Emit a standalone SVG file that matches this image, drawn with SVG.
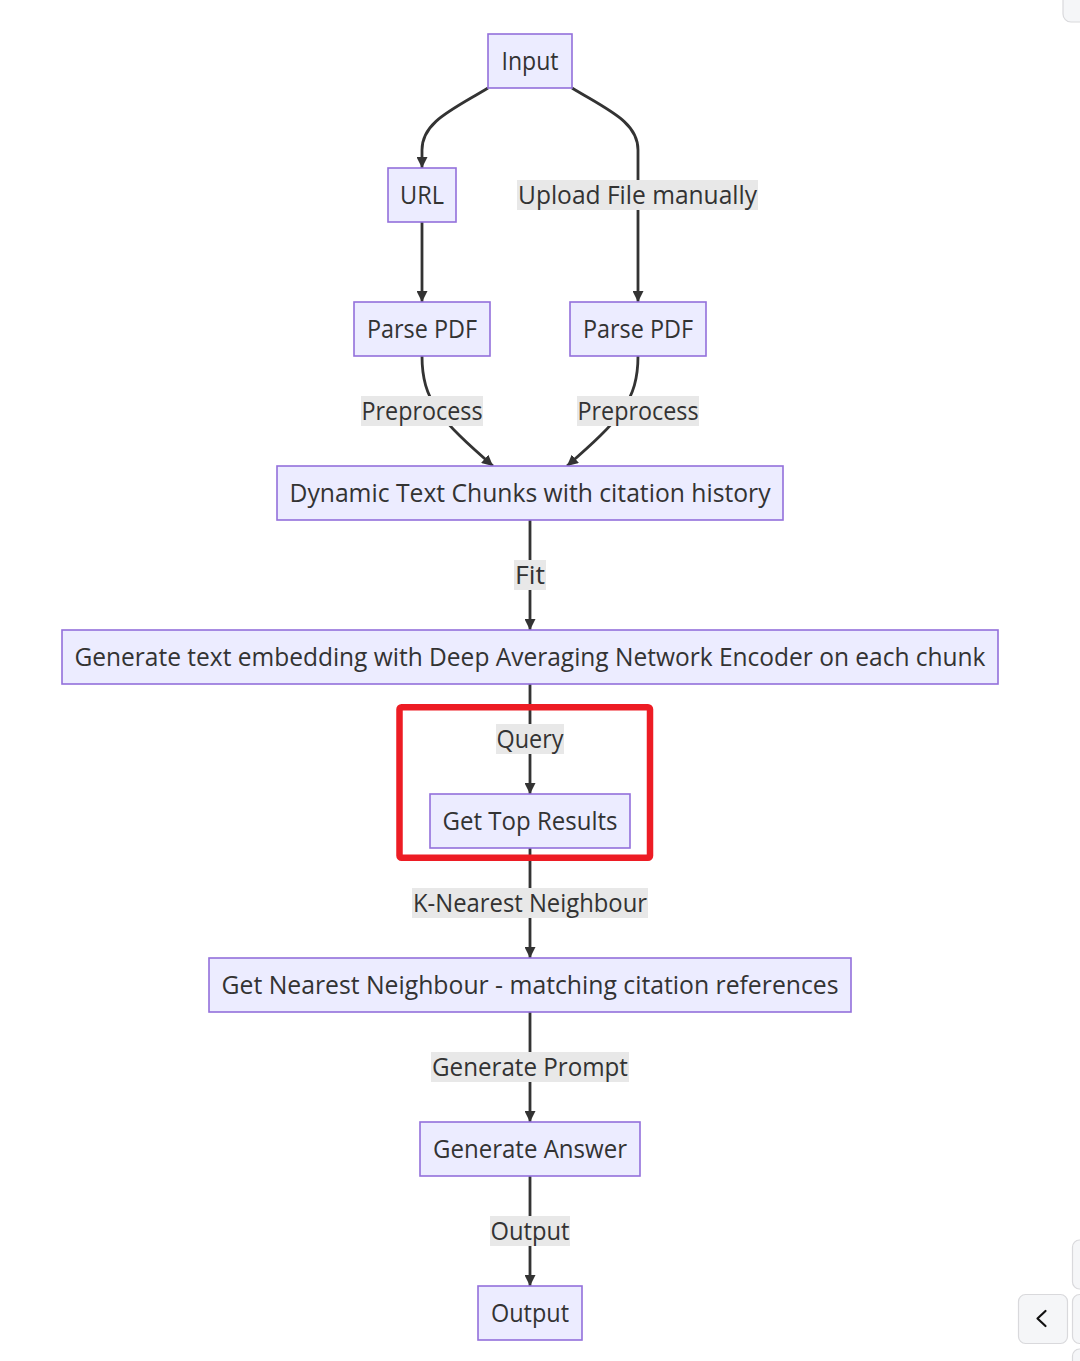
<svg xmlns="http://www.w3.org/2000/svg" width="1080" height="1361" viewBox="0 0 1080 1361">
<style>
  .node rect { fill: #ECECFF; stroke: #9370DB; stroke-width: 1.6; }
  .lbl rect { fill: #e8e8e8; }
  text { font-family: "Open Sans", "Liberation Sans", sans-serif; font-size: 25px; fill: #333333; text-anchor: middle; }
  .edge { fill: none; stroke: #333333; stroke-width: 2.8; marker-end: url(#arrow); }
  .ui { fill: #f5f6f8; stroke: #d9d9dc; stroke-width: 1.2; }
</style>
<defs>
  <marker id="arrow" viewBox="0 0 10 10" refX="10" refY="5" markerWidth="11" markerHeight="11" markerUnits="userSpaceOnUse" orient="auto">
    <path d="M0,0 L10,5 L0,10 z" fill="#333333"/>
  </marker>
</defs>
<rect width="1080" height="1361" fill="#ffffff"/>

<g id="connectors">
  <path class="edge" d="M488,88 C452,110 422,122 422,150 L422,168"/>
  <path class="edge" d="M572,88 C608,110 638,122 638,150 L638,302"/>
  <path class="edge" d="M422,222 L422,302"/>
  <path class="edge" d="M422,356 C422,400 440,420 493,466"/>
  <path class="edge" d="M638,356 C638,400 620,420 567,466"/>
  <path class="edge" d="M530,520 L530,630"/>
  <path class="edge" d="M530,684 L530,794"/>
  <path class="edge" d="M530,848 L530,958"/>
  <path class="edge" d="M530,1012 L530,1122"/>
  <path class="edge" d="M530,1176 L530,1286"/>
</g>

<g id="edge-labels">
  <g class="lbl" id="lbl-upload"><rect x="517" y="180" width="241" height="30"/><text x="637.5" y="204" textLength="239" lengthAdjust="spacingAndGlyphs">Upload File manually</text></g>
  <g class="lbl" id="lbl-pre-l"><rect x="361" y="396" width="122" height="30"/><text x="422" y="420" textLength="121" lengthAdjust="spacingAndGlyphs">Preprocess</text></g>
  <g class="lbl" id="lbl-pre-r"><rect x="577" y="396" width="122" height="30"/><text x="638" y="420" textLength="121" lengthAdjust="spacingAndGlyphs">Preprocess</text></g>
  <g class="lbl" id="lbl-fit"><rect x="514" y="560" width="32" height="30"/><text x="530" y="584" textLength="30" lengthAdjust="spacingAndGlyphs">Fit</text></g>
  <g class="lbl" id="lbl-query"><rect x="496" y="724" width="68" height="30"/><text x="530" y="748" textLength="67" lengthAdjust="spacingAndGlyphs">Query</text></g>
  <g class="lbl" id="lbl-knn"><rect x="412" y="888" width="236" height="30"/><text x="530" y="912" textLength="234" lengthAdjust="spacingAndGlyphs">K-Nearest Neighbour</text></g>
  <g class="lbl" id="lbl-prompt"><rect x="431" y="1052" width="198" height="30"/><text x="530" y="1076" textLength="196" lengthAdjust="spacingAndGlyphs">Generate Prompt</text></g>
  <g class="lbl" id="lbl-output"><rect x="490" y="1216" width="80" height="30"/><text x="530" y="1240" textLength="79" lengthAdjust="spacingAndGlyphs">Output</text></g>
</g>

<g id="n-input" class="node"><rect x="488" y="34" width="84" height="54"/><text x="530" y="70" textLength="57" lengthAdjust="spacingAndGlyphs">Input</text></g>
<g id="n-url" class="node"><rect x="388" y="168" width="68" height="54"/><text x="422" y="204" textLength="44" lengthAdjust="spacingAndGlyphs">URL</text></g>
<g id="n-parse-l" class="node"><rect x="354" y="302" width="136" height="54"/><text x="422" y="338" textLength="110" lengthAdjust="spacingAndGlyphs">Parse PDF</text></g>
<g id="n-parse-r" class="node"><rect x="570" y="302" width="136" height="54"/><text x="638" y="338" textLength="110" lengthAdjust="spacingAndGlyphs">Parse PDF</text></g>
<g id="n-chunks" class="node"><rect x="277" y="466" width="506" height="54"/><text x="530" y="502" textLength="481" lengthAdjust="spacingAndGlyphs">Dynamic Text Chunks with citation history</text></g>
<g id="n-embed" class="node"><rect x="62" y="630" width="936" height="54"/><text x="530" y="666" textLength="911" lengthAdjust="spacingAndGlyphs">Generate text embedding with Deep Averaging Network Encoder on each chunk</text></g>
<g id="n-top" class="node"><rect x="430" y="794" width="200" height="54"/><text x="530" y="830" textLength="175" lengthAdjust="spacingAndGlyphs">Get Top Results</text></g>
<g id="n-nearest" class="node"><rect x="209" y="958" width="642" height="54"/><text x="530" y="994" textLength="617" lengthAdjust="spacingAndGlyphs">Get Nearest Neighbour - matching citation references</text></g>
<g id="n-answer" class="node"><rect x="420" y="1122" width="220" height="54"/><text x="530" y="1158" textLength="194" lengthAdjust="spacingAndGlyphs">Generate Answer</text></g>
<g id="n-output" class="node"><rect x="478" y="1286" width="104" height="54"/><text x="530" y="1322" textLength="78" lengthAdjust="spacingAndGlyphs">Output</text></g>

<g id="highlight">
  <rect x="399.5" y="707.2" width="250.5" height="150.5" rx="2" fill="none" stroke="#ED1C24" stroke-width="6.5"/>
</g>

<g id="ui-controls">
  <rect class="ui" x="1063" y="-12" width="40" height="34" rx="8"/>
  <rect class="ui" x="1072.5" y="1240" width="30" height="49" rx="7"/>
  <rect class="ui" x="1018.5" y="1294.5" width="49" height="49" rx="7"/>
  <rect class="ui" x="1072.5" y="1294.5" width="30" height="49" rx="7"/>
  <rect class="ui" x="1072.5" y="1349" width="30" height="30" rx="7"/>
  <path d="M1045.5,1311 L1037.5,1318.5 L1045.5,1326" fill="none" stroke="#111111" stroke-width="2.2" stroke-linecap="round" stroke-linejoin="round"/>
</g>
</svg>
